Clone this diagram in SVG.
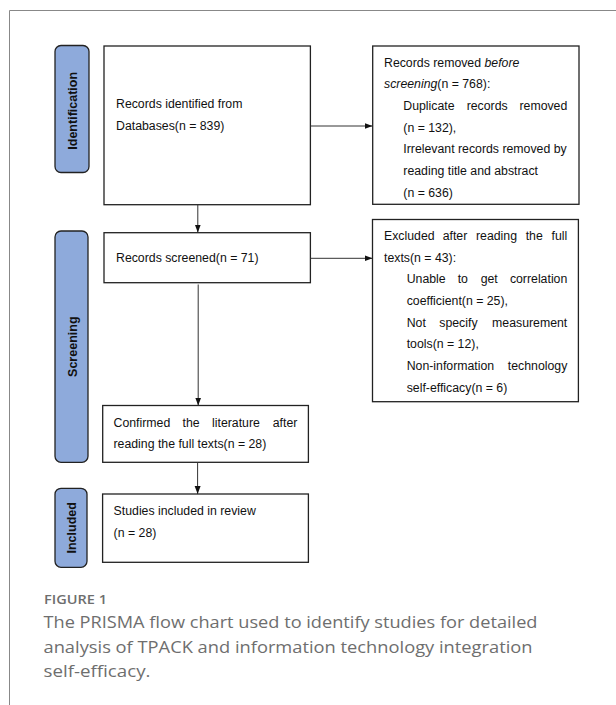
<svg xmlns="http://www.w3.org/2000/svg" width="616" height="705" viewBox="0 0 616 705">
<style>
.box{fill:#fff;stroke:#222;stroke-width:1.3}
.pill{fill:#8eaadb;stroke:#222;stroke-width:1.3}
.t{font-family:"Liberation Sans",Arial,sans-serif;font-size:12.3px;fill:#111}
.pl{font-family:"Liberation Sans",Arial,sans-serif;font-size:12.5px;font-weight:bold;fill:#111;text-anchor:middle}
.e{text-anchor:end}
.con{stroke:#333;stroke-width:1;fill:none}
.cap{font-family:"Open Sans","Noto Sans",sans-serif;fill:#6e6e6e}
</style>
<defs>
<marker id="ah" markerUnits="userSpaceOnUse" markerWidth="8" markerHeight="7" refX="8" refY="3.5" orient="auto">
<path d="M0,0.5 L8,3.5 L0,6.5 z" fill="#111"/>
</marker>
</defs>
<rect width="616" height="705" fill="#fff"/>
<path d="M9.5,705 V10.5 H616" fill="none" stroke="#888" stroke-width="1"/>

<g id="phase-identification">
<rect class="pill" x="55" y="45.5" width="34" height="127" rx="6"/>
<text class="pl" transform="translate(77,110.8) rotate(-90)">Identification</text>
</g>
<g id="phase-screening">
<rect class="pill" x="55" y="231" width="33" height="231.3" rx="6"/>
<text class="pl" transform="translate(76.5,346.7) rotate(-90)">Screening</text>
</g>
<g id="phase-included">
<rect class="pill" x="55" y="488.3" width="32" height="79" rx="6"/>
<text class="pl" transform="translate(76,527.8) rotate(-90)">Included</text>
</g>

<g id="node-identified">
<rect class="box" x="104" y="46" width="206.4" height="158.7"/>
<text class="t" x="116" y="108">Records identified from</text>
<text class="t" x="116" y="129.7">Databases(n = 839)</text>
</g>

<g id="node-removed">
<rect class="box" x="372.7" y="46" width="206.3" height="158.3"/>
<text class="t" x="384" y="66.7">Records removed <tspan font-style="italic">before</tspan></text>
<text class="t" x="384" y="88.3"><tspan font-style="italic">screening</tspan>(n = 768):</text>
<text class="t" x="403.3" y="110">Duplicate</text>
<text class="t" x="466.7" y="110">records</text>
<text class="t e" x="567.3" y="110">removed</text>
<text class="t" x="403.3" y="131.7">(n = 132),</text>
<text class="t" x="403.3" y="153.3">Irrelevant records removed by</text>
<text class="t" x="403.3" y="175">reading title and abstract</text>
<text class="t" x="403.3" y="196.7">(n = 636)</text>
</g>

<g id="node-screened">
<rect class="box" x="104" y="232.7" width="206.4" height="50"/>
<text class="t" x="116" y="261.7">Records screened(n = 71)</text>
</g>

<g id="node-excluded">
<rect class="box" x="372.5" y="219.5" width="205.9" height="182.2"/>
<text class="t" x="384" y="240">Excluded</text>
<text class="t" x="442.7" y="240">after</text>
<text class="t" x="476" y="240">reading</text>
<text class="t" x="525.7" y="240">the</text>
<text class="t e" x="567.3" y="240">full</text>
<text class="t" x="384" y="261.7">texts(n = 43):</text>
<text class="t" x="406.7" y="283.3">Unable</text>
<text class="t" x="457.7" y="283.3">to</text>
<text class="t" x="480.7" y="283.3">get</text>
<text class="t e" x="567.3" y="283.3">correlation</text>
<text class="t" x="406.7" y="305">coefficient(n = 25),</text>
<text class="t" x="406.7" y="326.7">Not</text>
<text class="t" x="439.3" y="326.7">specify</text>
<text class="t e" x="567.3" y="326.7">measurement</text>
<text class="t" x="406.7" y="348.3">tools(n = 12),</text>
<text class="t" x="406.7" y="370">Non-information</text>
<text class="t e" x="567.3" y="370">technology</text>
<text class="t" x="406.7" y="391.7">self-efficacy(n = 6)</text>
</g>

<g id="node-confirmed">
<rect class="box" x="102.7" y="405.5" width="205.7" height="56.8"/>
<text class="t" x="113.5" y="426.7">Confirmed</text>
<text class="t" x="182.5" y="426.7">the</text>
<text class="t" x="212" y="426.7">literature</text>
<text class="t e" x="297.4" y="426.7">after</text>
<text class="t" x="113.5" y="448.3">reading the full texts(n = 28)</text>
</g>

<g id="node-included">
<rect class="box" x="102.6" y="494" width="205.8" height="68.3"/>
<text class="t" x="113.6" y="515">Studies included in review</text>
<text class="t" x="113.6" y="536.7">(n = 28)</text>
</g>

<g id="connectors">
<line class="con" x1="310.4" y1="126" x2="372.5" y2="126" marker-end="url(#ah)"/>
<line class="con" x1="310.4" y1="258.3" x2="372.5" y2="258.3" marker-end="url(#ah)"/>
<line class="con" x1="197.8" y1="204.7" x2="197.8" y2="232.5" marker-end="url(#ah)"/>
<line class="con" x1="198.2" y1="284.5" x2="198.2" y2="405.5" marker-end="url(#ah)"/>
<line class="con" x1="197.6" y1="462.3" x2="197.6" y2="494" marker-end="url(#ah)"/>
</g>

<g id="caption">
<text class="cap" x="44" y="604" font-size="12.5" font-weight="600" textLength="63" lengthAdjust="spacingAndGlyphs">FIGURE 1</text>
<text class="cap" x="43.5" y="628.3" font-size="16.3" textLength="494" lengthAdjust="spacingAndGlyphs">The PRISMA flow chart used to identify studies for detailed</text>
<text class="cap" x="43.5" y="652.7" font-size="16.3" textLength="489" lengthAdjust="spacingAndGlyphs">analysis of TPACK and information technology integration</text>
<text class="cap" x="43.5" y="676.7" font-size="16.3" textLength="107" lengthAdjust="spacingAndGlyphs">self-efficacy.</text>
</g>
</svg>
